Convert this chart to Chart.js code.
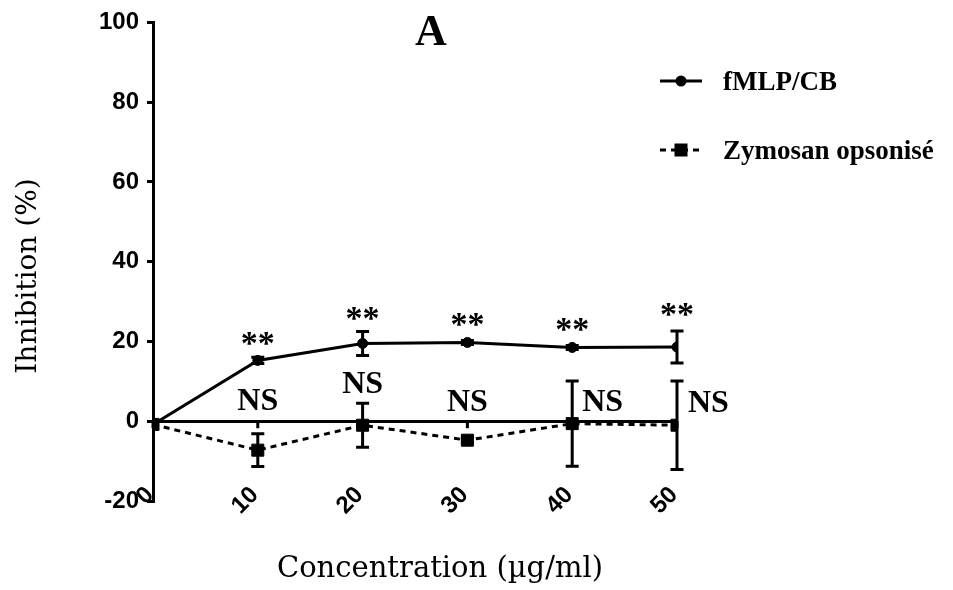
<!DOCTYPE html>
<html>
<head>
<meta charset="utf-8">
<script src="https://cdn.jsdelivr.net/npm/chart.js@4.4.1/dist/chart.umd.min.js"></script>
<style>
html,body{margin:0;padding:0;background:#ffffff;overflow:hidden;}
#wrap{position:relative;width:953px;height:590px;}
</style>
</head>
<body>
<div id="wrap"><canvas id="chart" width="953" height="590"></canvas></div>
<script>
// ---- data ----
const concentrations = [0, 10, 20, 30, 40, 50];
const fmlpValues = [-0.8, 15.25, 19.5, 19.75, 18.5, 18.6];
const fmlpErrors = [0, 0.8, 3.0, 0.5, 0.5, 4.0];
const zymosanValues = [-0.8, -7.25, -1.0, -4.75, -0.6, -1.0];
const zymosanErrors = [0, 4.1, 5.5, 0.5, 10.7, 11.1];
const seriesLabels = ['fMLP/CB', 'Zymosan opsonisé'];
const starX = [10, 20, 30, 40, 50];
const starY = [19.0, 25.25, 23.75, 22.5, 26.25];
const nsX = [10, 20, 30, 42.9, 53];
const nsY = [5, 9.25, 4.75, 4.75, 4.5];
const chartTitle = 'A';
const xTitle = 'Concentration (µg/ml)';
const yTitle = 'Ihnibition (%)';

const SANS = '"Liberation Sans", Arial, sans-serif';
const SERIF = '"Liberation Serif", "Times New Roman", serif';
const WIDE_SERIF = '"DejaVu Serif", serif';

function pts(xs, ys) { return xs.map((c, i) => ({ x: c, y: ys[i] })); }

const axisTickPlugin = {
  id: 'zeroAxisTicks',
  beforeDatasetsDraw(chart) {
    const ctx = chart.ctx;
    const xs = chart.scales.x, ys = chart.scales.y;
    const y0 = ys.getPixelForValue(0);
    ctx.save();
    ctx.strokeStyle = '#000';
    ctx.lineWidth = 3;
    ctx.beginPath();
    xs.ticks.forEach(t => {
      const px = xs.getPixelForValue(t.value);
      ctx.moveTo(px, y0);
      ctx.lineTo(px, y0 + 7);
    });
    ctx.stroke();
    ctx.restore();
  }
};

const errorBarPlugin = {
  id: 'errorBars',
  afterDatasetsDraw(chart) {
    const ctx = chart.ctx;
    const yScale = chart.scales.y;
    ctx.save();
    chart.data.datasets.forEach((ds, di) => {
      const meta = chart.getDatasetMeta(di);
      const errs = ds.errors || [];
      meta.data.forEach((el, i) => {
        const e = errs[i];
        if (!e) return;
        const v = ds.data[i].y;
        const top = yScale.getPixelForValue(v + e);
        const bot = yScale.getPixelForValue(v - e);
        ctx.strokeStyle = '#000';
        ctx.lineWidth = 3;
        ctx.setLineDash([]);
        ctx.beginPath();
        ctx.moveTo(el.x, top); ctx.lineTo(el.x, bot);
        ctx.moveTo(el.x - 6.5, top); ctx.lineTo(el.x + 6.5, top);
        ctx.moveTo(el.x - 6.5, bot); ctx.lineTo(el.x + 6.5, bot);
        ctx.stroke();
      });
    });
    ctx.restore();
  }
};

const decorPlugin = {
  id: 'decor',
  afterDraw(chart) {
    const ctx = chart.ctx;
    const xs = chart.scales.x, ys = chart.scales.y;
    ctx.save();
    ctx.fillStyle = '#000';
    ctx.textAlign = 'center';
    ctx.textBaseline = 'middle';
    // significance stars
    ctx.font = 'bold 34px ' + SERIF;
    starX.forEach((v, i) => ctx.fillText('**', xs.getPixelForValue(v), ys.getPixelForValue(starY[i])));
    // NS labels
    ctx.font = 'bold 32px ' + SERIF;
    nsX.forEach((v, i) => ctx.fillText('NS', xs.getPixelForValue(v), ys.getPixelForValue(nsY[i])));
    // title
    ctx.font = 'bold 44px ' + SERIF;
    ctx.fillText(chartTitle, 431, 34);
    // x title
    ctx.font = '29px ' + WIDE_SERIF;
    ctx.textBaseline = 'alphabetic';
    ctx.fillText(xTitle, 440, 577);
    // y title
    ctx.save();
    ctx.translate(36, 276);
    ctx.rotate(-Math.PI / 2);
    ctx.font = '28px ' + WIDE_SERIF;
    ctx.fillText(yTitle, 0, 0);
    ctx.restore();
    // legend
    const rows = [81, 150];
    chart.data.datasets.forEach((ds, i) => {
      const ry = rows[i];
      ctx.strokeStyle = '#000';
      ctx.lineWidth = ds.borderWidth;
      ctx.setLineDash(ds.borderDash || []);
      ctx.beginPath();
      ctx.moveTo(660, ry); ctx.lineTo(702, ry);
      ctx.stroke();
      ctx.setLineDash([]);
      ctx.fillStyle = '#000';
      ctx.beginPath();
      if (ds.pointStyle === 'rect') {
        ctx.rect(681 - 6.5, ry - 6.5, 13, 13);
      } else {
        ctx.arc(681, ry, 5.5, 0, Math.PI * 2);
      }
      ctx.fill();
      ctx.font = 'bold 27px ' + SERIF;
      ctx.textAlign = 'left';
      ctx.textBaseline = 'middle';
      ctx.fillText(ds.label, 723, ry + 2);
    });
    ctx.restore();
  }
};

const tickFont = { family: SANS, size: 24, weight: 'bold' };

new Chart(document.getElementById('chart'), {
  type: 'line',
  data: {
    datasets: [
      {
        label: seriesLabels[0],
        data: pts(concentrations, fmlpValues),
        errors: fmlpErrors,
        borderColor: '#000', backgroundColor: '#000',
        borderWidth: 3, pointStyle: 'circle', pointRadius: 5, pointBorderWidth: 1,
        tension: 0, order: 1, xAxisID: 'x', yAxisID: 'y'
      },
      {
        label: seriesLabels[1],
        data: pts(concentrations, zymosanValues),
        errors: zymosanErrors,
        borderColor: '#000', backgroundColor: '#000',
        borderWidth: 3, borderDash: [6, 5], pointStyle: 'rect', pointRadius: 8.5, pointBorderWidth: 1,
        tension: 0, order: 0, xAxisID: 'x', yAxisID: 'y'
      }
    ]
  },
  options: {
    responsive: false,
    animation: false,
    devicePixelRatio: 1,
    layout: { padding: { top: 21, right: 276, bottom: 89, left: 0 } },
    plugins: { legend: { display: false }, tooltip: { enabled: false } },
    scales: {
      y: {
        type: 'linear', position: 'left', min: -20, max: 100,
        ticks: { stepSize: 20, color: '#000', font: tickFont, padding: 8 },
        grid: { drawOnChartArea: false, drawTicks: true, tickLength: 6, color: '#000', lineWidth: 3 },
        border: { color: '#000', width: 3 },
        afterFit(s) { s.width = 153; }
      },
      x: {
        type: 'linear', position: { y: 0 }, min: 0, max: 50,
        ticks: { stepSize: 10, display: false },
        grid: { display: false, drawTicks: false },
        border: { display: true, color: '#000', width: 3 }
      },
      x2: {
        type: 'linear', position: { y: -20 }, min: 0, max: 50,
        ticks: { stepSize: 10, minRotation: 45, maxRotation: 45, padding: -20, labelOffset: -3, color: '#000', font: tickFont },
        grid: { display: false, drawTicks: false },
        border: { display: false }
      }
    }
  },
  plugins: [axisTickPlugin, errorBarPlugin, decorPlugin]
});
</script>
</body>
</html>
